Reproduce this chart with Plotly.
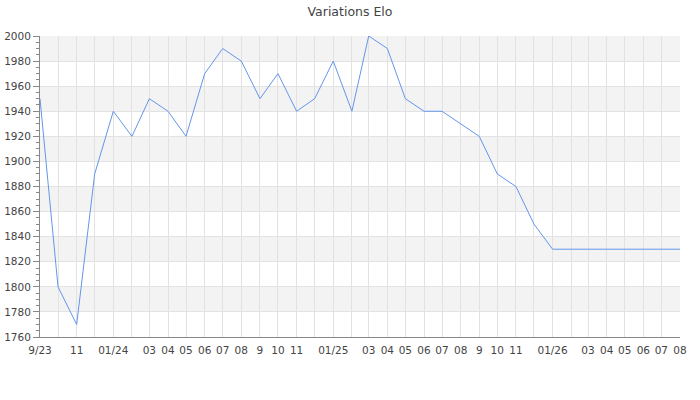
import plotly.graph_objects as go

# monthly Elo values, Sep 2023 -> Aug 2026
months = [
    "2023-09-01", "2023-10-01", "2023-11-01", "2023-12-01",
    "2024-01-01", "2024-02-01", "2024-03-01", "2024-04-01",
    "2024-05-01", "2024-06-01", "2024-07-01", "2024-08-01",
    "2024-09-01", "2024-10-01", "2024-11-01", "2024-12-01",
    "2025-01-01", "2025-02-01", "2025-03-01", "2025-04-01",
    "2025-05-01", "2025-06-01", "2025-07-01", "2025-08-01",
    "2025-09-01", "2025-10-01", "2025-11-01", "2025-12-01",
    "2026-01-01", "2026-02-01", "2026-03-01", "2026-04-01",
    "2026-05-01", "2026-06-01", "2026-07-01", "2026-08-01",
]
elo = [
    1950, 1800, 1770, 1890,
    1940, 1920, 1950, 1940,
    1920, 1970, 1990, 1980,
    1950, 1970, 1940, 1950,
    1980, 1940, 2000, 1990,
    1950, 1940, 1940, 1930,
    1920, 1890, 1880, 1850,
    1830, 1830, 1830, 1830,
    1830, 1830, 1830, 1830,
]
# some month labels are left out on the original axis
month_labels = [
    "9/23", "", "11", "",
    "01/24", "", "03", "04",
    "05", "06", "07", "08",
    "9", "10", "11", "",
    "01/25", "", "03", "04",
    "05", "06", "07", "08",
    "9", "10", "11", "",
    "01/26", "", "03", "04",
    "05", "06", "07", "08",
]

Y_MIN, Y_MAX, Y_STEP = 1760, 2000, 20
FONT = "DejaVu Sans"
TEXT = "#444444"
GRID = "#e2e2e2"
BAND = "#f3f3f3"
AXIS = "#888888"

fig = go.Figure()
fig.add_trace(go.Scatter(
    x=months, y=elo, mode="lines",
    line=dict(color="#6495ed", width=1),
    hoverinfo="x+y", showlegend=False,
))

# alternating grey bands behind the grid
for low in range(Y_MIN + Y_STEP, Y_MAX, 2 * Y_STEP):
    fig.add_shape(
        type="rect", xref="paper", yref="y",
        x0=0, x1=1, y0=low, y1=low + Y_STEP,
        fillcolor=BAND, line_width=0, layer="below",
    )

fig.update_layout(
    width=700, height=400,
    margin=dict(l=40, r=20, t=36, b=63),
    paper_bgcolor="white", plot_bgcolor="white",
    font=dict(family=FONT, size=10.5, color=TEXT),
    title=dict(text="Variations Elo", x=0.5, xanchor="center",
               y=0.97, yanchor="middle", automargin=False,
               font=dict(family=FONT, size=12.5, color=TEXT)),
)
fig.update_xaxes(
    type="date", range=[months[0], months[-1]], automargin=False,
    tickmode="array", tickvals=months, ticktext=month_labels,
    showgrid=True, gridcolor=GRID, gridwidth=1,
    showline=True, linecolor=AXIS, linewidth=1,
    ticks="", ticklen=0, tickangle=0, zeroline=False,
    ticklabelstandoff=3,
)
fig.update_yaxes(
    range=[Y_MIN, Y_MAX], dtick=Y_STEP, tick0=Y_MIN, automargin=False,
    showgrid=True, gridcolor=GRID, gridwidth=1,
    showline=True, linecolor=AXIS, linewidth=1,
    ticks="outside", ticklen=6, tickcolor=AXIS, zeroline=False,
    minor=dict(dtick=5, ticks="outside", ticklen=3,
               tickcolor=AXIS, showgrid=False),
)

# the page's default body margin would push the chart off by 8px
fig.write_html("out.html", config={"displayModeBar": False},
               post_script="document.body.style.margin = '0';")
